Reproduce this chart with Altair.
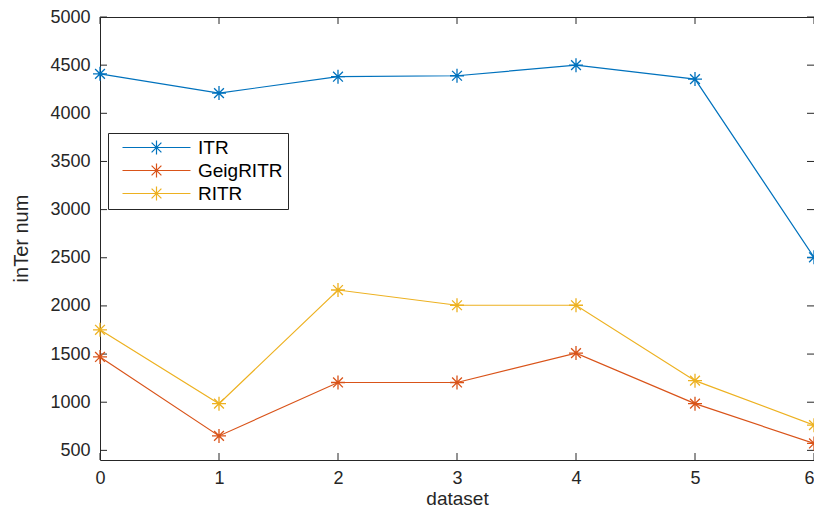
import altair as alt
import pandas as pd

# ---- data ----
datasets = [0, 1, 2, 3, 4, 5, 6]
series_names = ["ITR", "GeigRITR", "RITR"]
itr = [4410, 4210, 4380, 4390, 4500, 4355, 2505]
geig = [1470, 650, 1205, 1205, 1510, 985, 572]
ritr = [1752, 985, 2165, 2007, 2007, 1224, 762]
colors = ["#0072BD", "#D95319", "#EDB120"]
x_ticks = [0, 1, 2, 3, 4, 5, 6]
y_ticks = [500, 1000, 1500, 2000, 2500, 3000, 3500, 4000, 4500, 5000]

rows = []
for name, vals in zip(series_names, [itr, geig, ritr]):
    for xv, yv in zip(datasets, vals):
        rows.append({"series": name, "x": xv, "y": yv})
df = pd.DataFrame(rows)
tick_y = pd.DataFrame({"x": [0] * len(y_ticks), "y": y_ticks})
tick_x = pd.DataFrame({"x": x_ticks, "y": [500] * len(x_ticks)})

W, H = 714, 443
TXT = "#262626"
FONT = "Liberation Sans"
STAR = "M-1,0L1,0M0,-1L0,1M-0.7,-0.7L0.7,0.7M-0.7,0.7L0.7,-0.7"
LEG = "M-4.857,0L4.857,0M0,-1L0,1M-0.7,-0.7L0.7,0.7M-0.7,0.7L0.7,-0.7"

xscale = alt.Scale(domain=[0, 6], nice=False, zero=False)
yscale = alt.Scale(domain=[400, 5000], nice=False, zero=False)
x_axis = alt.Axis(values=x_ticks, title="dataset", format="d", labelFlush=False,
                  labelAlign={"condition": {"test": "datum.value == 6", "value": "right"},
                              "value": "center"},
                  labelPadding=9, titleY=48, titleBaseline="bottom", titleFontSize=19)
y_axis = alt.Axis(values=y_ticks, title="inTer num", format="d", labelFlush=False,
                  labelPadding=10, titleX=-73, titleY=221,
                  titleAngle=270, titleBaseline="alphabetic")

X = alt.X("x:Q", scale=xscale, axis=x_axis)
Y = alt.Y("y:Q", scale=yscale, axis=y_axis)

base = alt.Chart(df).encode(
    x=X, y=Y,
    color=alt.Color("series:N",
                    scale=alt.Scale(domain=series_names, range=colors),
                    title=None,
                    legend=alt.Legend(orient="none", legendX=8, legendY=116,
                                      symbolType=LEG, symbolSize=196,
                                      symbolStrokeWidth=1.2, symbolOffset=34,
                                      labelOffset=32, padding=5, rowPadding=3,
                                      strokeColor=TXT, fillColor="white",
                                      labelFontSize=19, labelFont=FONT,
                                      labelColor="black", cornerRadius=0)),
)

lines = base.mark_line(strokeWidth=1.2)
points = base.mark_point(shape=STAR, size=196, filled=False, strokeWidth=1.3, opacity=1)

left_ticks = alt.Chart(tick_y).mark_rule(color=TXT, strokeWidth=1).encode(
    y=Y, x=alt.value(0), x2=alt.value(7))
right_ticks = alt.Chart(tick_y).mark_rule(color=TXT, strokeWidth=1).encode(
    y=Y, x=alt.value(W - 7), x2=alt.value(W))
bottom_ticks = alt.Chart(tick_x).mark_rule(color=TXT, strokeWidth=1).encode(
    x=X, y=alt.value(H - 7), y2=alt.value(H))
top_ticks = alt.Chart(tick_x).mark_rule(color=TXT, strokeWidth=1).encode(
    x=X, y=alt.value(0), y2=alt.value(7))

chart = alt.layer(left_ticks, right_ticks, bottom_ticks, top_ticks, lines, points).properties(
    width=W, height=H,
    padding={"left": 92, "top": 9, "right": 0, "bottom": 48},
    autosize=alt.AutoSizeParams(type="none"),
).configure_view(
    stroke=TXT, strokeWidth=1
).configure_axis(
    domain=False, ticks=False, grid=False,
    labelFont=FONT, labelFontSize=18, labelColor=TXT,
    titleFont=FONT, titleFontSize=20, titleFontWeight="normal", titleColor=TXT,
)

chart.save("out.html", embed_options={"renderer": "svg", "actions": False})
